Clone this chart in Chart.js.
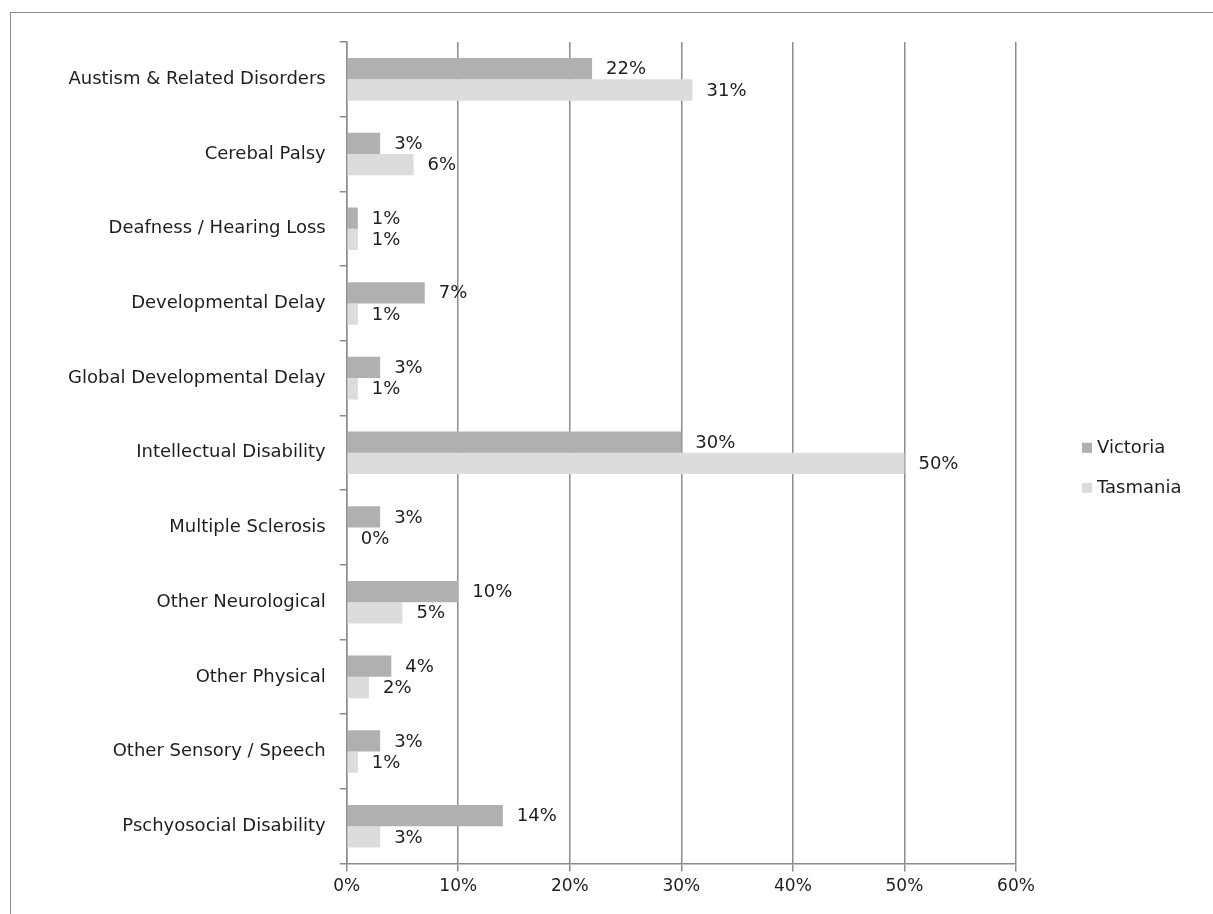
<!DOCTYPE html>
<html>
<head>
<meta charset="utf-8">
<script src="https://cdn.jsdelivr.net/npm/chart.js@4.4.1/dist/chart.umd.min.js"></script>
<style>
  html, body { margin: 0; padding: 0; background: #fff; }
  #frame { position: absolute; left: 10px; top: 12px; width: 1210px; height: 910px; border: 1.5px solid #8a8a8a; box-sizing: border-box; }
  #wrap { position: absolute; left: 0; top: 0; width: 1213px; height: 914px; }
</style>
</head>
<body>
<div id="frame"></div>
<div id="wrap"><canvas id="chart"></canvas></div>
<script>
const categories = [
    'Austism & Related Disorders',
    'Cerebal Palsy',
    'Deafness / Hearing Loss',
    'Developmental Delay',
    'Global Developmental Delay',
    'Intellectual Disability',
    'Multiple Sclerosis',
    'Other Neurological',
    'Other Physical',
    'Other Sensory / Speech',
    'Pschyosocial Disability',
];
const victoria = [22, 3, 1, 7, 3, 30, 3, 10, 4, 3, 14];
const tasmania = [31, 6, 1, 1, 1, 50, 0, 5, 2, 1, 3];
const xTicks = [0, 10, 20, 30, 40, 50, 60];

const FONT = 'DejaVu Sans';
const gridColor = '#8c8c8c';
const textColor = '#1e1e1e';

// value labels to the right of each bar
const valueLabels = {
    id: 'valueLabels',
    afterDatasetsDraw(chart) {
        const ctx = chart.ctx;
        ctx.save();
        ctx.font = '18px "' + FONT + '"';
        ctx.fillStyle = textColor;
        ctx.textAlign = 'left';
        ctx.textBaseline = 'middle';
        chart.data.datasets.forEach((ds, i) => {
            chart.getDatasetMeta(i).data.forEach((bar, j) => {
                ctx.fillText(ds.data[j] + '%', bar.x + 14, bar.y + 1);
            });
        });
        ctx.restore();
    },
};

// legend sits well to the right of the plot, so draw it by hand
const sideLegend = {
    id: 'sideLegend',
    afterDraw(chart) {
        const ctx = chart.ctx;
        const area = chart.chartArea;
        const x = area.right + 66;
        const midY = (area.top + area.bottom) / 2;
        ctx.save();
        ctx.font = '18px "' + FONT + '"';
        ctx.textBaseline = 'middle';
        ctx.textAlign = 'left';
        chart.data.datasets.forEach((ds, i) => {
            const y = midY - 5 + i * 40;
            ctx.fillStyle = ds.backgroundColor;
            ctx.fillRect(x, y - 5, 10, 10);
            ctx.fillStyle = textColor;
            ctx.fillText(ds.label, x + 15, y + 1);
        });
        ctx.restore();
    },
};

new Chart(document.getElementById('chart'), {
    type: 'bar',
    data: {
        labels: categories,
        datasets: [
            { label: 'Victoria', data: victoria, backgroundColor: '#b0b0b0', barPercentage: 1, categoryPercentage: 0.57 },
            { label: 'Tasmania', data: tasmania, backgroundColor: '#dcdcdc', barPercentage: 1, categoryPercentage: 0.57 },
        ],
    },
    options: {
        indexAxis: 'y',
        responsive: true,
        maintainAspectRatio: false,
        animation: false,
        layout: { padding: { left: 54, top: 42, right: 197, bottom: 12 } },
        plugins: {
            legend: { display: false },
            tooltip: { enabled: false },
        },
        scales: {
            x: {
                min: 0, max: 60,
                afterBuildTicks: axis => { axis.ticks = xTicks.map(v => ({ value: v })); },
                grid: { color: gridColor, lineWidth: 1.5, tickLength: 8 },
                border: { color: gridColor, width: 1.5 },
                ticks: { color: textColor, padding: 5, font: { family: FONT, size: 17 }, callback: v => v + '%' },
            },
            y: {
                grid: { drawOnChartArea: false, color: gridColor, lineWidth: 1.5, tickLength: 7, offset: true },
                border: { color: gridColor, width: 1.5 },
                ticks: { color: textColor, padding: 14, font: { family: FONT, size: 18 } },
            },
        },
    },
    plugins: [valueLabels, sideLegend],
});
</script>
</body>
</html>
